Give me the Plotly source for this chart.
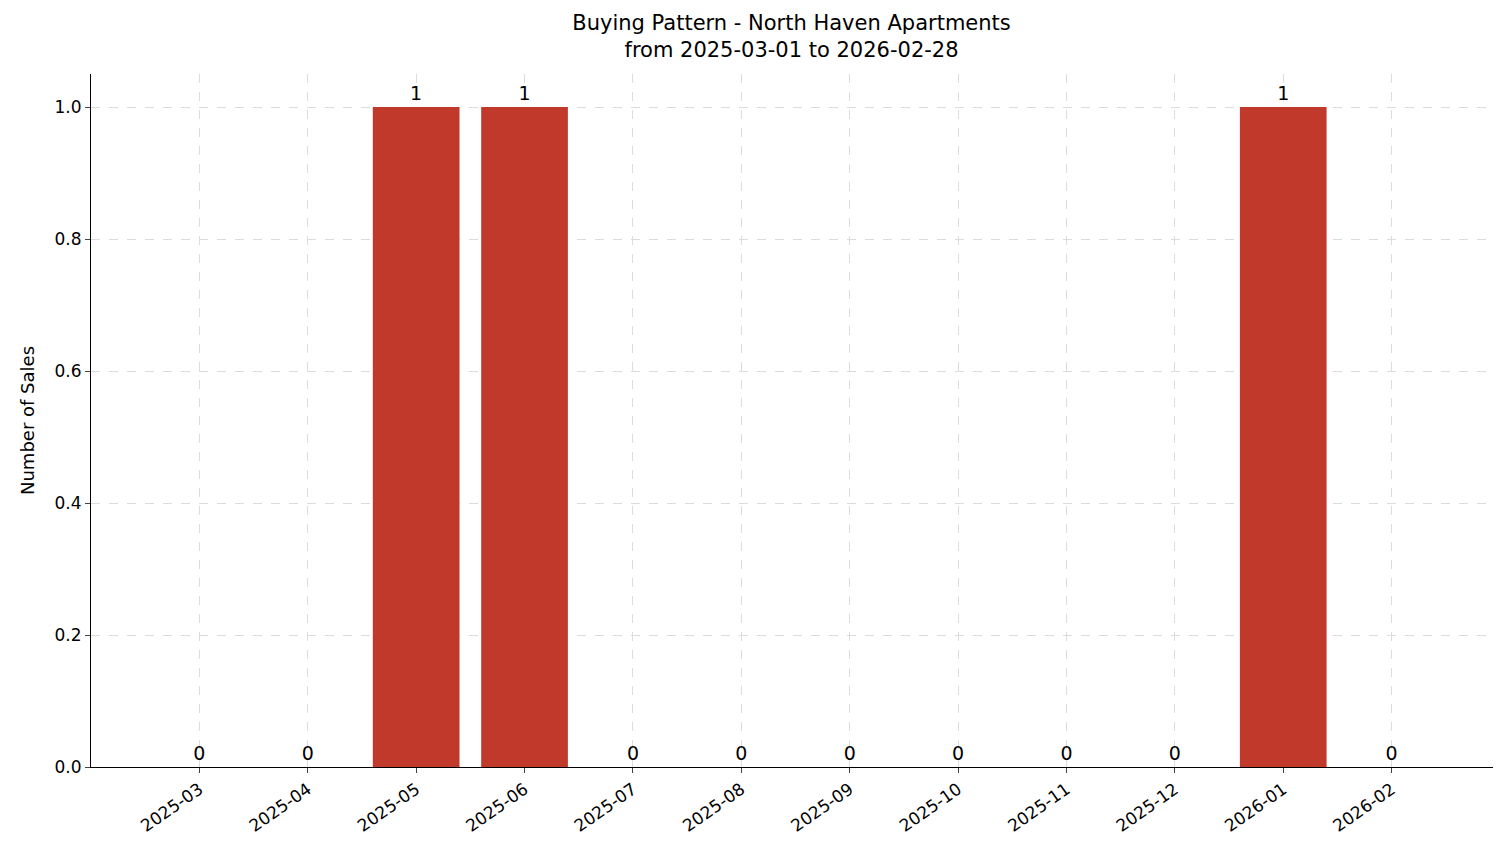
import plotly.graph_objects as go

months = ["2025-03","2025-04","2025-05","2025-06","2025-07","2025-08","2025-09","2025-10","2025-11","2025-12","2026-01","2026-02"]
sales = [0,0,1,1,0,0,0,0,0,0,1,0]

xi = list(range(len(months)))
fig = go.Figure(go.Bar(x=xi, y=sales, width=0.8, marker_color="#c0392b", marker_line_width=0,
                       text=[str(v) for v in sales], textposition="outside",
                       textfont=dict(size=19, color="black"), cliponaxis=False))
fig.update_layout(
    width=1501, height=863, plot_bgcolor="white", paper_bgcolor="white",
    font=dict(family="DejaVu Sans", size=17, color="black"),
    margin=dict(l=83, r=9, t=66, b=104),
    title=dict(text="Buying Pattern - North Haven Apartments<br>from 2025-03-01 to 2026-02-28",
               x=0.522, xanchor="center", y=0.975, yanchor="top", font=dict(size=21)),
    showlegend=False,
)
fig.update_xaxes(range=[-1, 12], tickmode="array", tickvals=xi, ticktext=months, tickangle=-35,
                 showline=True, linecolor="black", ticks="outside", ticklen=5,
                 showgrid=True, gridcolor="#dcdcdc", griddash="dash", zeroline=False)
fig.update_yaxes(range=[0, 1.05], tickvals=[0,0.2,0.4,0.6,0.8,1.0], tickformat=".1f",
                 title=dict(text="Number of Sales", font=dict(size=18)),
                 showline=True, linecolor="black", ticks="outside", ticklen=5,
                 showgrid=True, gridcolor="#dcdcdc", griddash="dash", zeroline=False)
fig.write_html("out.html")
